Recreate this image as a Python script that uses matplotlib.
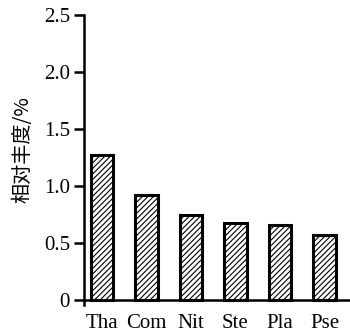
import matplotlib.pyplot as plt
from matplotlib.ticker import FixedLocator, FixedFormatter

genera = ["Tha", "Com", "Nit", "Ste", "Pla", "Pse"]
abundance = [1.27, 0.92, 0.75, 0.68, 0.66, 0.57]
yticks = [0, 0.5, 1.0, 1.5, 2.0, 2.5]
ytick_labels = ["0", "0.5", "1.0", "1.5", "2.0", "2.5"]

plt.rcParams["hatch.linewidth"] = 0.8

fig = plt.figure(figsize=(3.5, 3.34), dpi=100)
ax = fig.add_axes([0.24, 0.0868, 0.76, 0.868])

x = range(len(genera))
ax.bar(x, abundance, width=0.5, color="white", edgecolor="black",
       linewidth=2.2, hatch="//////")

ax.set_xlim(-0.4, 5.57)
ax.set_ylim(-0.044, 2.5)
ax.yaxis.set_major_locator(FixedLocator(yticks))
ax.yaxis.set_major_formatter(FixedFormatter(ytick_labels))
ax.set_xticks(list(x))
ax.set_xticklabels(genera)

# x axis sits at zero, the y axis pokes a little below it
ax.spines["bottom"].set_position(("data", 0))
for side in ["top", "right"]:
    ax.spines[side].set_visible(False)
for side in ["left", "bottom"]:
    ax.spines[side].set_linewidth(1.8)

ax.tick_params(axis="y", direction="out", length=7, width=1.8, pad=3,
               labelsize=15)
ax.tick_params(axis="x", length=0, pad=10, labelsize=15)
for lab in ax.get_xticklabels() + ax.get_yticklabels():
    lab.set_fontfamily("Liberation Serif")

ax.set_ylabel("相对丰度/%", fontsize=14.5,
              family=["Noto Sans CJK SC", "DejaVu Sans"], labelpad=5)
ax.yaxis.set_label_coords(-0.19, 0.535)

fig.savefig("out.png", dpi=100)
